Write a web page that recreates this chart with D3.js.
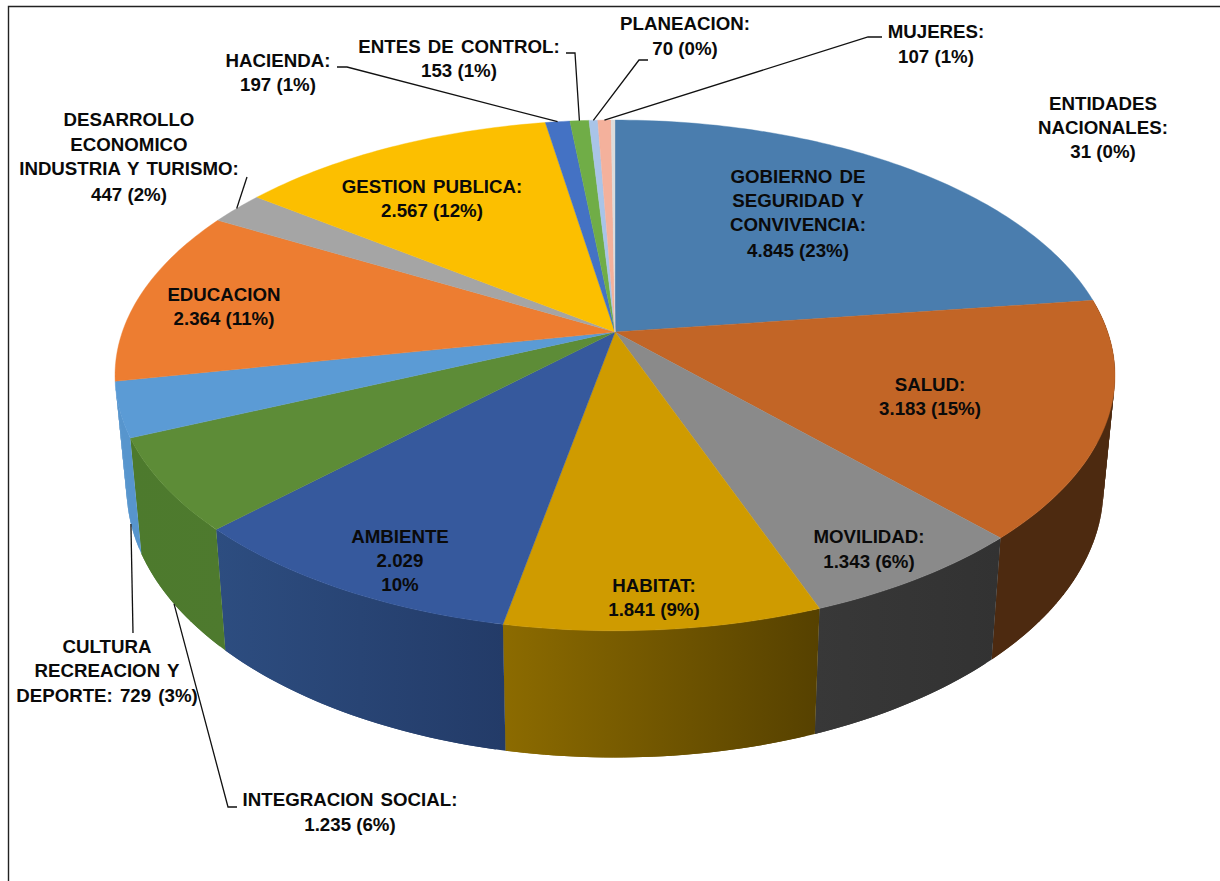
<!DOCTYPE html>
<html>
<head>
<meta charset="utf-8">
<script src="https://cdn.jsdelivr.net/npm/d3@7/dist/d3.min.js"></script>
<style>
html,body{margin:0;padding:0;background:#fff;overflow:hidden}
svg{display:block}
text{font-family:"Liberation Sans",Arial,sans-serif;font-weight:700;font-size:18.7px;fill:#0a0a0a;text-anchor:middle}
</style>
</head>
<body>
<svg id="chart" width="1220" height="881"></svg>
<script>
// Sector values, in slice order (clockwise from 12 o'clock)
const sectors = ["GOBIERNO DE SEGURIDAD Y CONVIVENCIA","SALUD","MOVILIDAD","HABITAT","AMBIENTE",
  "INTEGRACION SOCIAL","CULTURA RECREACION Y DEPORTE","EDUCACION","DESARROLLO ECONOMICO INDUSTRIA Y TURISMO",
  "GESTION PUBLICA","HACIENDA","ENTES DE CONTROL","PLANEACION","MUJERES","ENTIDADES NACIONALES"];
const values = [4845,3183,1343,1841,2029,1235,729,2364,447,2567,197,153,70,107,31];
const topColors = ["#4a7dae","#c26526","#8a8a8a","#cf9b00","#36599d","#5d8c37","#5b9bd5","#ed7d31",
  "#a5a5a5","#fcbf00","#4472c4","#70ad47","#a9c4e8","#f4b19c","#dcdcdc"];
// Side wall shading, left and right ends of each visible wall
const wallColors = [null,["#4d2a10","#4d2a10"],["#383838","#323232"],["#8c6b00","#564100"],["#2d4d80","#233b68"],
  ["#4d7a2d","#4e7a2e"],["#5795cd","#5795cd"]];
// Label text; {v} and {p} are filled with the value and its share
const labelLines = [
  ["GOBIERNO DE","SEGURIDAD Y","CONVIVENCIA:","{v} ({p})"],["SALUD:","{v} ({p})"],["MOVILIDAD:","{v} ({p})"],
  ["HABITAT:","{v} ({p})"],["AMBIENTE","{v}","{p}"],["INTEGRACION SOCIAL:","{v} ({p})"],
  ["CULTURA","RECREACION Y","DEPORTE: {v} ({p})"],["EDUCACION","{v} ({p})"],
  ["DESARROLLO","ECONOMICO","INDUSTRIA Y TURISMO:","{v} ({p})"],["GESTION PUBLICA:","{v} ({p})"],
  ["HACIENDA:","{v} ({p})"],["ENTES DE CONTROL:","{v} ({p})"],["PLANEACION:","{v} ({p})"],["MUJERES:","{v} ({p})"],
  ["ENTIDADES","NACIONALES:","{v} ({p})"]];
// Label placement: centre x and the centre y of each line
const labelPlaces = [
  [798,[177,201,225,251]],[930,[385,409]],[869,[537,562]],[654,[586,610]],[400,[537,561,585]],[350,[800,825]],
  [107,[647,671,696]],[224,[295,319]],[129,[120,145,169,195]],[432,[187,211]],[278,[61,85]],[459,[47,71]],
  [685,[24,49]],[936,[32,57]],[1103,[104,128,152]]];
// Leader lines: slice index, which rim they leave from, then the bends towards the label
const leaders = [
  {i:10,rim:"top",pts:[[347,67],[337,67]]},
  {i:11,rim:"top",pts:[[575,53],[566,53]]},
  {i:12,rim:"top",pts:[[639,60],[648,60]]},
  {i:13,rim:"top",pts:[[868,37],[882,37]]},
  {i:8,rim:"top",pts:[[247,177]]},
  {i:6,rim:"bottom",pts:[[133,633]]},
  {i:5,rim:"bottom",pts:[[228,807],[237,807]]}];

const svg = d3.select("#chart");
const fmt = d3.formatLocale({decimal:",",thousands:".",grouping:[3],currency:["",""]}).format(",d");
const total = d3.sum(values);

// Perspective projection of the unit disc on to the page
const cx = 615, cy = 332, rimA = 492.7, rimB = 248, tilt = 0.17;
function topRim(a){
  const u = Math.sin(a), v = -Math.cos(a), w = 1 - tilt*v;
  return [cx + rimA*u/w, cy + rimB*v/w];
}
// The lower rim is the upper one slid down and slightly narrowed
const lowerX = d3.scaleLinear().domain([cx-500,cx+500]).range([cx-488.5,cx+488.5]);
const lowerY = d3.scaleLinear().domain([cy,cy+300]).range([cy+110,cy+110+316.8]);
const lowerRim = a => { const p = topRim(a); return [lowerX(p[0]),lowerY(p[1])]; };

const pie = d3.pie().sort(null).value(d=>d)(values);
const line = d3.line();
const arcPts = (rim,s) => {
  const n = Math.max(2,Math.ceil((s.endAngle-s.startAngle)/(Math.PI/180)));
  return d3.range(n+1).map(k=>rim(s.startAngle+(s.endAngle-s.startAngle)*k/n));
};

// Walls first, so that the top surface covers their back edges
const defs = svg.append("defs");
const walls = svg.append("g");
wallColors.forEach((c,i)=>{
  if(!c) return;
  const up = arcPts(topRim,pie[i]), lo = arcPts(lowerRim,pie[i]);
  const xs = d3.extent(up.concat(lo),p=>p[0]);
  const id = "wall"+i;
  const g = defs.append("linearGradient").attr("id",id).attr("gradientUnits","userSpaceOnUse")
    .attr("x1",xs[0]).attr("x2",xs[1]).attr("y1",0).attr("y2",0);
  g.append("stop").attr("offset",0).attr("stop-color",c[0]);
  g.append("stop").attr("offset",1).attr("stop-color",c[1]);
  const grp = walls.append("g").attr("fill",`url(#${id})`);
  // Neighbouring strips overlap by one step so no seams show between them
  d3.range(up.length-1).forEach(a=>{
    const b = Math.min(a+2,up.length-1);
    grp.append("path").attr("d",line([up[a],up[b],lo[b],lo[a]])+"Z");
  });
});

// Top surface
svg.append("g").selectAll("path").data(pie).join("path")
  .attr("d",s=>line([[cx,cy],...arcPts(topRim,s)])+"Z")
  .attr("fill",(s,i)=>topColors[i])
  .attr("stroke",(s,i)=>topColors[i]).attr("stroke-width",0.4);

// Leader lines
svg.append("g").selectAll("path").data(leaders).join("path")
  .attr("d",l=>{
    const s = pie[l.i], mid = (s.startAngle+s.endAngle)/2;
    return line([(l.rim==="top"?topRim:lowerRim)(mid),...l.pts]);
  })
  .attr("fill","none").attr("stroke","#111").attr("stroke-width",1.3);

// Labels
labelLines.forEach((lines,i)=>{
  const [x,ys] = labelPlaces[i];
  const share = Math.round(values[i]/total*100)+"%";
  const t = svg.append("text");
  lines.forEach((ln,k)=>{
    t.append("tspan").attr("x",x).attr("y",ys[k]+6)
      .style("word-spacing",ln.startsWith("{v}")?"0px":"2px")
      .text(ln.replace("{v}",fmt(values[i])).replace("{p}",share));
  });
});

// Chart frame: only the top and left edges fall on the page
svg.append("path").attr("d",line([[8.5,881],[8.5,6.5],[1220,6.5]]))
  .attr("fill","none").attr("stroke","#222").attr("stroke-width",1.4);
</script>
</body>
</html>
